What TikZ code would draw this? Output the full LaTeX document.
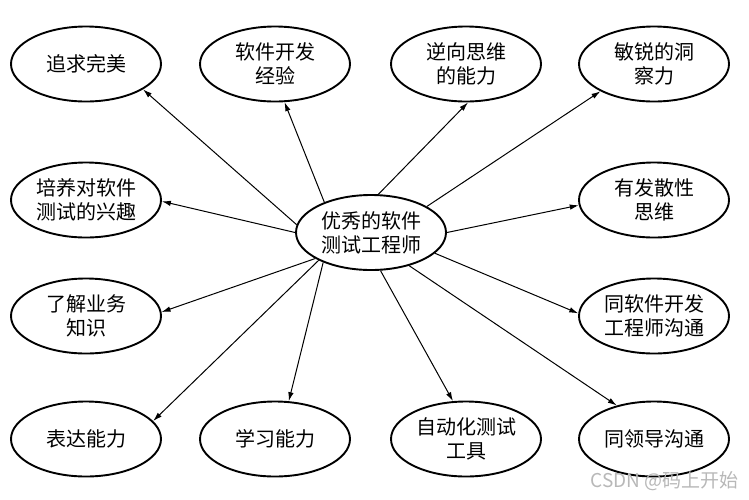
\documentclass[tikz,border=0pt]{standalone}
\usepackage{fontspec}
\newfontfamily\cjk{Noto Sans CJK SC}
\usetikzlibrary{shapes.geometric,arrows.meta}
\begin{document}
\begin{tikzpicture}[x=1pt,y=-1pt,
  oval/.style={ellipse,draw,line width=1.9pt,minimum width=150pt,minimum height=75pt,inner sep=0pt,align=center,font=\cjk\fontsize{20}{24}\selectfont},
  link/.style={line width=1pt,-{Latex[length=9pt,width=5.5pt]}}]
\useasboundingbox[fill=white] (0,0) rectangle (749,499);
\node[oval] (c) at (371,232.5) {优秀的软件\\测试工程师};
\node[oval] (a) at (86,64) {追求完美};
\node[oval] (b) at (275,64) {软件开发\\经验};
\node[oval] (n) at (466,64) {逆向思维\\的能力};
\node[oval] (d) at (654,64) {敏锐的洞\\察力};
\node[oval] (e) at (86,200) {培养对软件\\测试的兴趣};
\node[oval] (f) at (654,200) {有发散性\\思维};
\node[oval] (g) at (86,316) {了解业务\\知识};
\node[oval] (h) at (654,316) {同软件开发\\工程师沟通};
\node[oval] (i) at (86,439) {表达能力};
\node[oval] (j) at (275,439) {学习能力};
\node[oval] (k) at (466,439) {自动化测试\\工具};
\node[oval] (l) at (654,439) {同领导沟通};
\draw[link] (c.174) -- (a.-24.5);
\draw[link] (c.147) -- (b.-76);
\draw[link] (c.79) -- (n.-87);
\draw[link] (c.25) -- (d.-153.4);
\draw[link] (c.180) -- (e.-1);
\draw[link] (c.0) -- (f.184.6);
\draw[link] (c.205.4) -- (g.3);
\draw[link] (c.-18.3) -- (h.178);
\draw[link] (c.208.6) -- (i.15.8);
\draw[link] (c.212.2) -- (j.70.6);
\draw[link] (c.-76.5) -- (k.109.7);
\draw[link] (c.-41.3) -- (l.138.9);
\node[text=black!28,font=\cjk\fontsize{19}{22}\selectfont,anchor=east,inner sep=0pt] (wm) at (739,481) {CSDN @码上开始};
\end{tikzpicture}
\end{document}
